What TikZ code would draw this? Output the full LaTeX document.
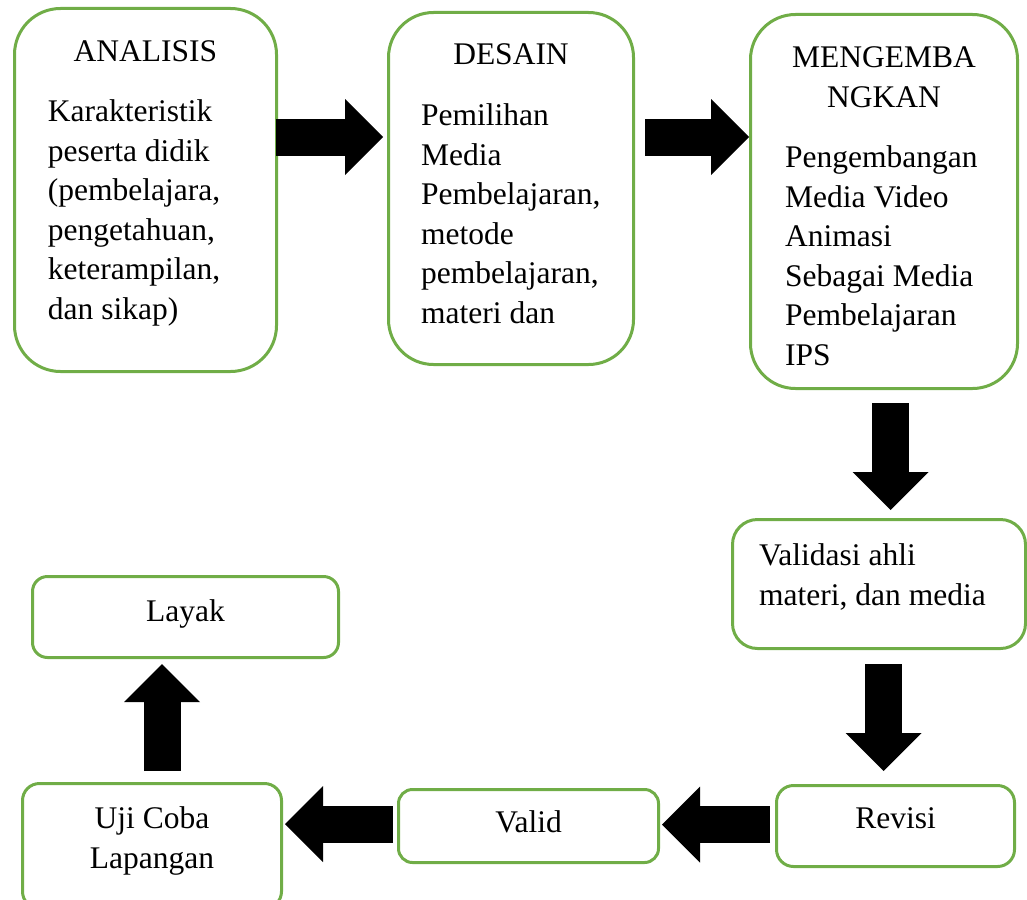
\documentclass[tikz,border=0pt]{standalone}
\usepackage{fontspec}
\setmainfont{Liberation Serif}
\usetikzlibrary{arrows.meta}
\definecolor{hijau}{RGB}{112,173,71}
\tikzset{
	kotak/.style={draw=hijau, line width=3pt, rounded corners=#1, inner sep=0pt},
	kotak/.default=15pt,
	teks/.style={inner sep=0pt, font=\fontsize{31.5}{39.5}\selectfont},
	panah/.style={line width=37pt, -{Triangle[length=38pt, width=76pt, line width=0pt]}}
}

\begin{document}
\begin{tikzpicture}[x=1pt, y=-1pt]
			%%%%% START %%%%%
			\useasboundingbox (0, 0) rectangle (1027, 899);
			\clip (0, 0) rectangle (1027, 899);
			
			\node[kotak=46pt, minimum width=262pt, minimum height=363pt] (analisis) at (145.5, 190) {};
			\node[kotak=45pt, minimum width=245pt, minimum height=352pt] (desain) at (511, 188.5) {};
			\node[kotak=45pt, minimum width=267pt, minimum height=374pt] (kembang) at (884, 201.5) {};
			\node[kotak=25pt, minimum width=293pt, minimum height=129pt] (validasi) at (879, 584) {};
			\node[kotak=17pt, minimum width=238pt, minimum height=81pt] (revisi) at (895.5, 826) {};
			\node[kotak=14pt, minimum width=260pt, minimum height=73pt] (valid) at (528.5, 826) {};
			\node[kotak=17pt, minimum width=259pt, minimum height=125pt] (ujicoba) at (152, 846) {};
			\node[kotak, minimum width=306pt, minimum height=81pt] (layak) at (185.5, 617) {};
			
			% base = baseline of the last line
			\node[teks, anchor=base] (judulanalisis) at (145.5, 61) {ANALISIS};
			\node[teks, anchor=base west, align=left] (isianalisis) at (47.7, 319) {Karakteristik\\peserta didik\\(pembelajara,\\pengetahuan,\\keterampilan,\\dan sikap)};
			
			\node[teks, anchor=base] (juduldesain) at (511, 64) {DESAIN};
			\node[teks, anchor=base west, align=left] (isidesain) at (421, 323) {Pemilihan\\Media\\Pembelajaran,\\metode\\pembelajaran,\\materi dan};
			
			\node[teks, anchor=base, align=center] (juduldkembang) at (884, 107) {MENGEMBA\\NGKAN};
			\node[teks, anchor=base west, align=left] (isikembang) at (785, 365) {Pengembangan\\Media Video\\Animasi\\Sebagai Media\\Pembelajaran\\IPS};
			
			\node[teks, anchor=base west, align=left] (isivalidasi) at (759, 605) {Validasi ahli\\materi, dan media};
			\node[teks, anchor=base] (isirevisi) at (895.5, 828) {Revisi};
			\node[teks, anchor=base] (isivalid) at (528.5, 832) {Valid};
			\node[teks, anchor=base, align=center] (isiujicoba) at (152, 868) {Uji Coba\\Lapangan};
			\node[teks, anchor=base] (isilayak) at (185.5, 621) {Layak};
			
			\draw[panah] ([shift={(-2, -53)}]analisis.east) -- ([shift={(-4, -51.5)}]desain.west);
			\draw[panah] ([shift={(10, -51.5)}]desain.east) -- ([shift={(0, -64.5)}]kembang.west);
			\draw[panah] ([shift={(6.5, 13)}]kembang.south) -- ([shift={(11.5, -8)}]validasi.north);
			\draw[panah] ([shift={(4.5, 14)}]validasi.south) -- ([shift={(-12, -13)}]revisi.north);
			\draw[panah] ([shift={(-5, -1.5)}]revisi.west) -- ([shift={(2, -1.5)}]valid.east);
			\draw[panah] ([shift={(-4, -2)}]valid.west) -- ([shift={(2, -22)}]ujicoba.east);
			\draw[panah] ([shift={(10, -11)}]ujicoba.north) -- ([shift={(-23.5, 5)}]layak.south);
			
			%%%%% END %%%%%
\end{tikzpicture}
\end{document}
